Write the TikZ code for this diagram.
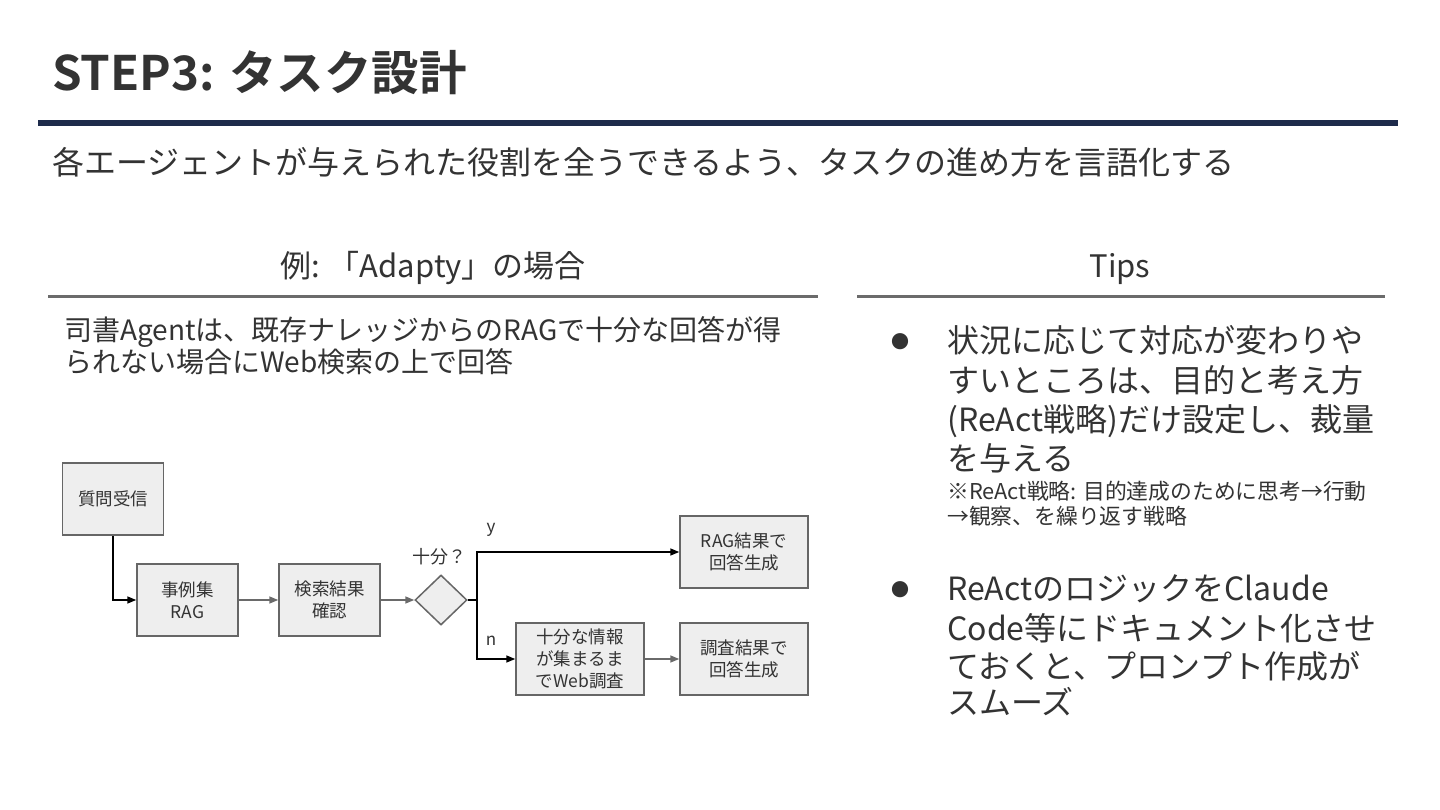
\documentclass[tikz,border=0pt]{standalone}
\usepackage{fontspec}
\setmainfont{Noto Sans CJK JP}[BoldFont={Noto Sans CJK JP Bold}]
\usetikzlibrary{arrows.meta,shapes.geometric}
\definecolor{txtc}{HTML}{333333}
\definecolor{navy}{HTML}{1E2B4B}
\definecolor{rulec}{HTML}{6B6B6B}
\definecolor{boxfill}{HTML}{EEEEEE}
\definecolor{boxline}{HTML}{666666}
\definecolor{garr}{HTML}{6A6A6A}
\newcommand{\myfs}[2]{\fontsize{#1}{#2}\selectfont}
\begin{document}
\begin{tikzpicture}[x=1pt,y=-1pt,
  txt/.style={text=txtc, inner sep=0, anchor=base west},
  ctxt/.style={text=txtc, inner sep=0, anchor=base},
  fbox/.style={draw=boxline, fill=boxfill, line width=1.5pt, minimum width=101pt, minimum height=72pt, inner sep=0, align=center, font=\myfs{17.5}{22}, text=txtc},
  wbox/.style={fbox, minimum width=128pt},
  garrow/.style={draw=garr, line width=1.5pt, -{Triangle[length=9pt,width=7pt]}},
  karrow/.style={draw=black, line width=1.5pt, -{Triangle[length=9pt,width=7pt]}},
  kline/.style={draw=black, line width=1.5pt},
  hrule/.style={draw=rulec, line width=3pt}
]
\fill[white] (0,0) rectangle (1440,810);
\useasboundingbox (0,0) rectangle (1440,810);

% title
\node[txt, font=\myfs{47.5}{56}\bfseries] (title) at (52,91) {STEP3: タスク設計};
\draw[navy, line width=6pt] (38,123) -- (1398,123);
\node[txt, font=\myfs{32}{38}] (sub) at (52,175) {各エージェントが与えられた役割を全うできるよう、タスクの進め方を言語化する};

% column headings
\node[ctxt, font=\myfs{31}{36}] (h1) at (433,278) {例: 「Adapty」の場合};
\draw[hrule] (48,297) -- (818,297);
\node[ctxt, font=\myfs{31}{36}] (h2) at (1120,278) {Tips};
\draw[hrule] (857,297) -- (1385,297);

% body left
\node[txt, font=\myfs{28}{32}] (b1) at (64,340) {司書Agentは、既存ナレッジからのRAGで十分な回答が得};
\node[txt, font=\myfs{28}{32}] (b2) at (64,372) {られない場合にWeb検索の上で回答};

% tips
\node[text=txtc, inner sep=0, font=\myfs{18}{20}] (bul1) at (900,342) {●};
\node[txt, font=\myfs{32}{39}] (t1a) at (947,352) {状況に応じて対応が変わりや};
\node[txt, font=\myfs{32}{39}] (t1b) at (947,392) {すいところは、目的と考え方};
\node[txt, font=\myfs{32}{39}] (t1c) at (947,431) {(ReAct戦略)だけ設定し、裁量};
\node[txt, font=\myfs{32}{39}] (t1d) at (947,470) {を与える};
\node[txt, font=\myfs{21.8}{25}] (n1) at (947,499) {※ReAct戦略: 目的達成のために思考→行動};
\node[txt, font=\myfs{21.8}{25}] (n2) at (947,524) {→観察、を繰り返す戦略};

\node[text=txtc, inner sep=0, font=\myfs{18}{20}] (bul2) at (900,590) {●};
\node[txt, font=\myfs{32}{39}] (t2a) at (947,600) {ReActのロジックをClaude};
\node[txt, font=\myfs{32}{39}] (t2b) at (947,640) {Code等にドキュメント化させ};
\node[txt, font=\myfs{32}{39}] (t2c) at (947,678) {ておくと、プロンプト作成が};
\node[txt, font=\myfs{32}{39}] (t2d) at (947,714) {スムーズ};

% flowchart
\node[fbox] (q) at (113,499) {質問受信};
\node[fbox] (rag) at (187.5,600) {事例集\\RAG};
\node[fbox] (chk) at (329.5,600) {検索結果\\確認};
\node[diamond, draw=boxline, fill=boxfill, line width=1.5pt, minimum width=52pt, minimum height=50pt, inner sep=0] (dia) at (441,600) {};
\node[text=txtc, inner sep=0, font=\myfs{18}{20}] (dlab) at (439,557) {十分？};
\node[wbox] (ragans) at (744,552) {RAG結果で\\回答生成};
\node[wbox] (web) at (580,659) {十分な情報\\が集まるま\\でWeb調査};
\node[wbox] (invans) at (744,659) {調査結果で\\回答生成};
\coordinate (split) at (477,600);
\node[text=txtc, inner sep=0, font=\myfs{17}{20}] (ylab) at (491,530) {y};
\node[text=txtc, inner sep=0, font=\myfs{17}{20}] (nlab) at (491,641) {n};

\draw[karrow] (q.south) |- (rag.west);
\draw[garrow] (rag) -- (chk);
\draw[garrow] (chk) -- (dia);
\draw[kline] (dia.east) -- (split);
\draw[karrow] (split) |- (ragans.west);
\draw[karrow] (split) |- (web.west);
\draw[garrow] (web) -- (invans);
\end{tikzpicture}
\end{document}
